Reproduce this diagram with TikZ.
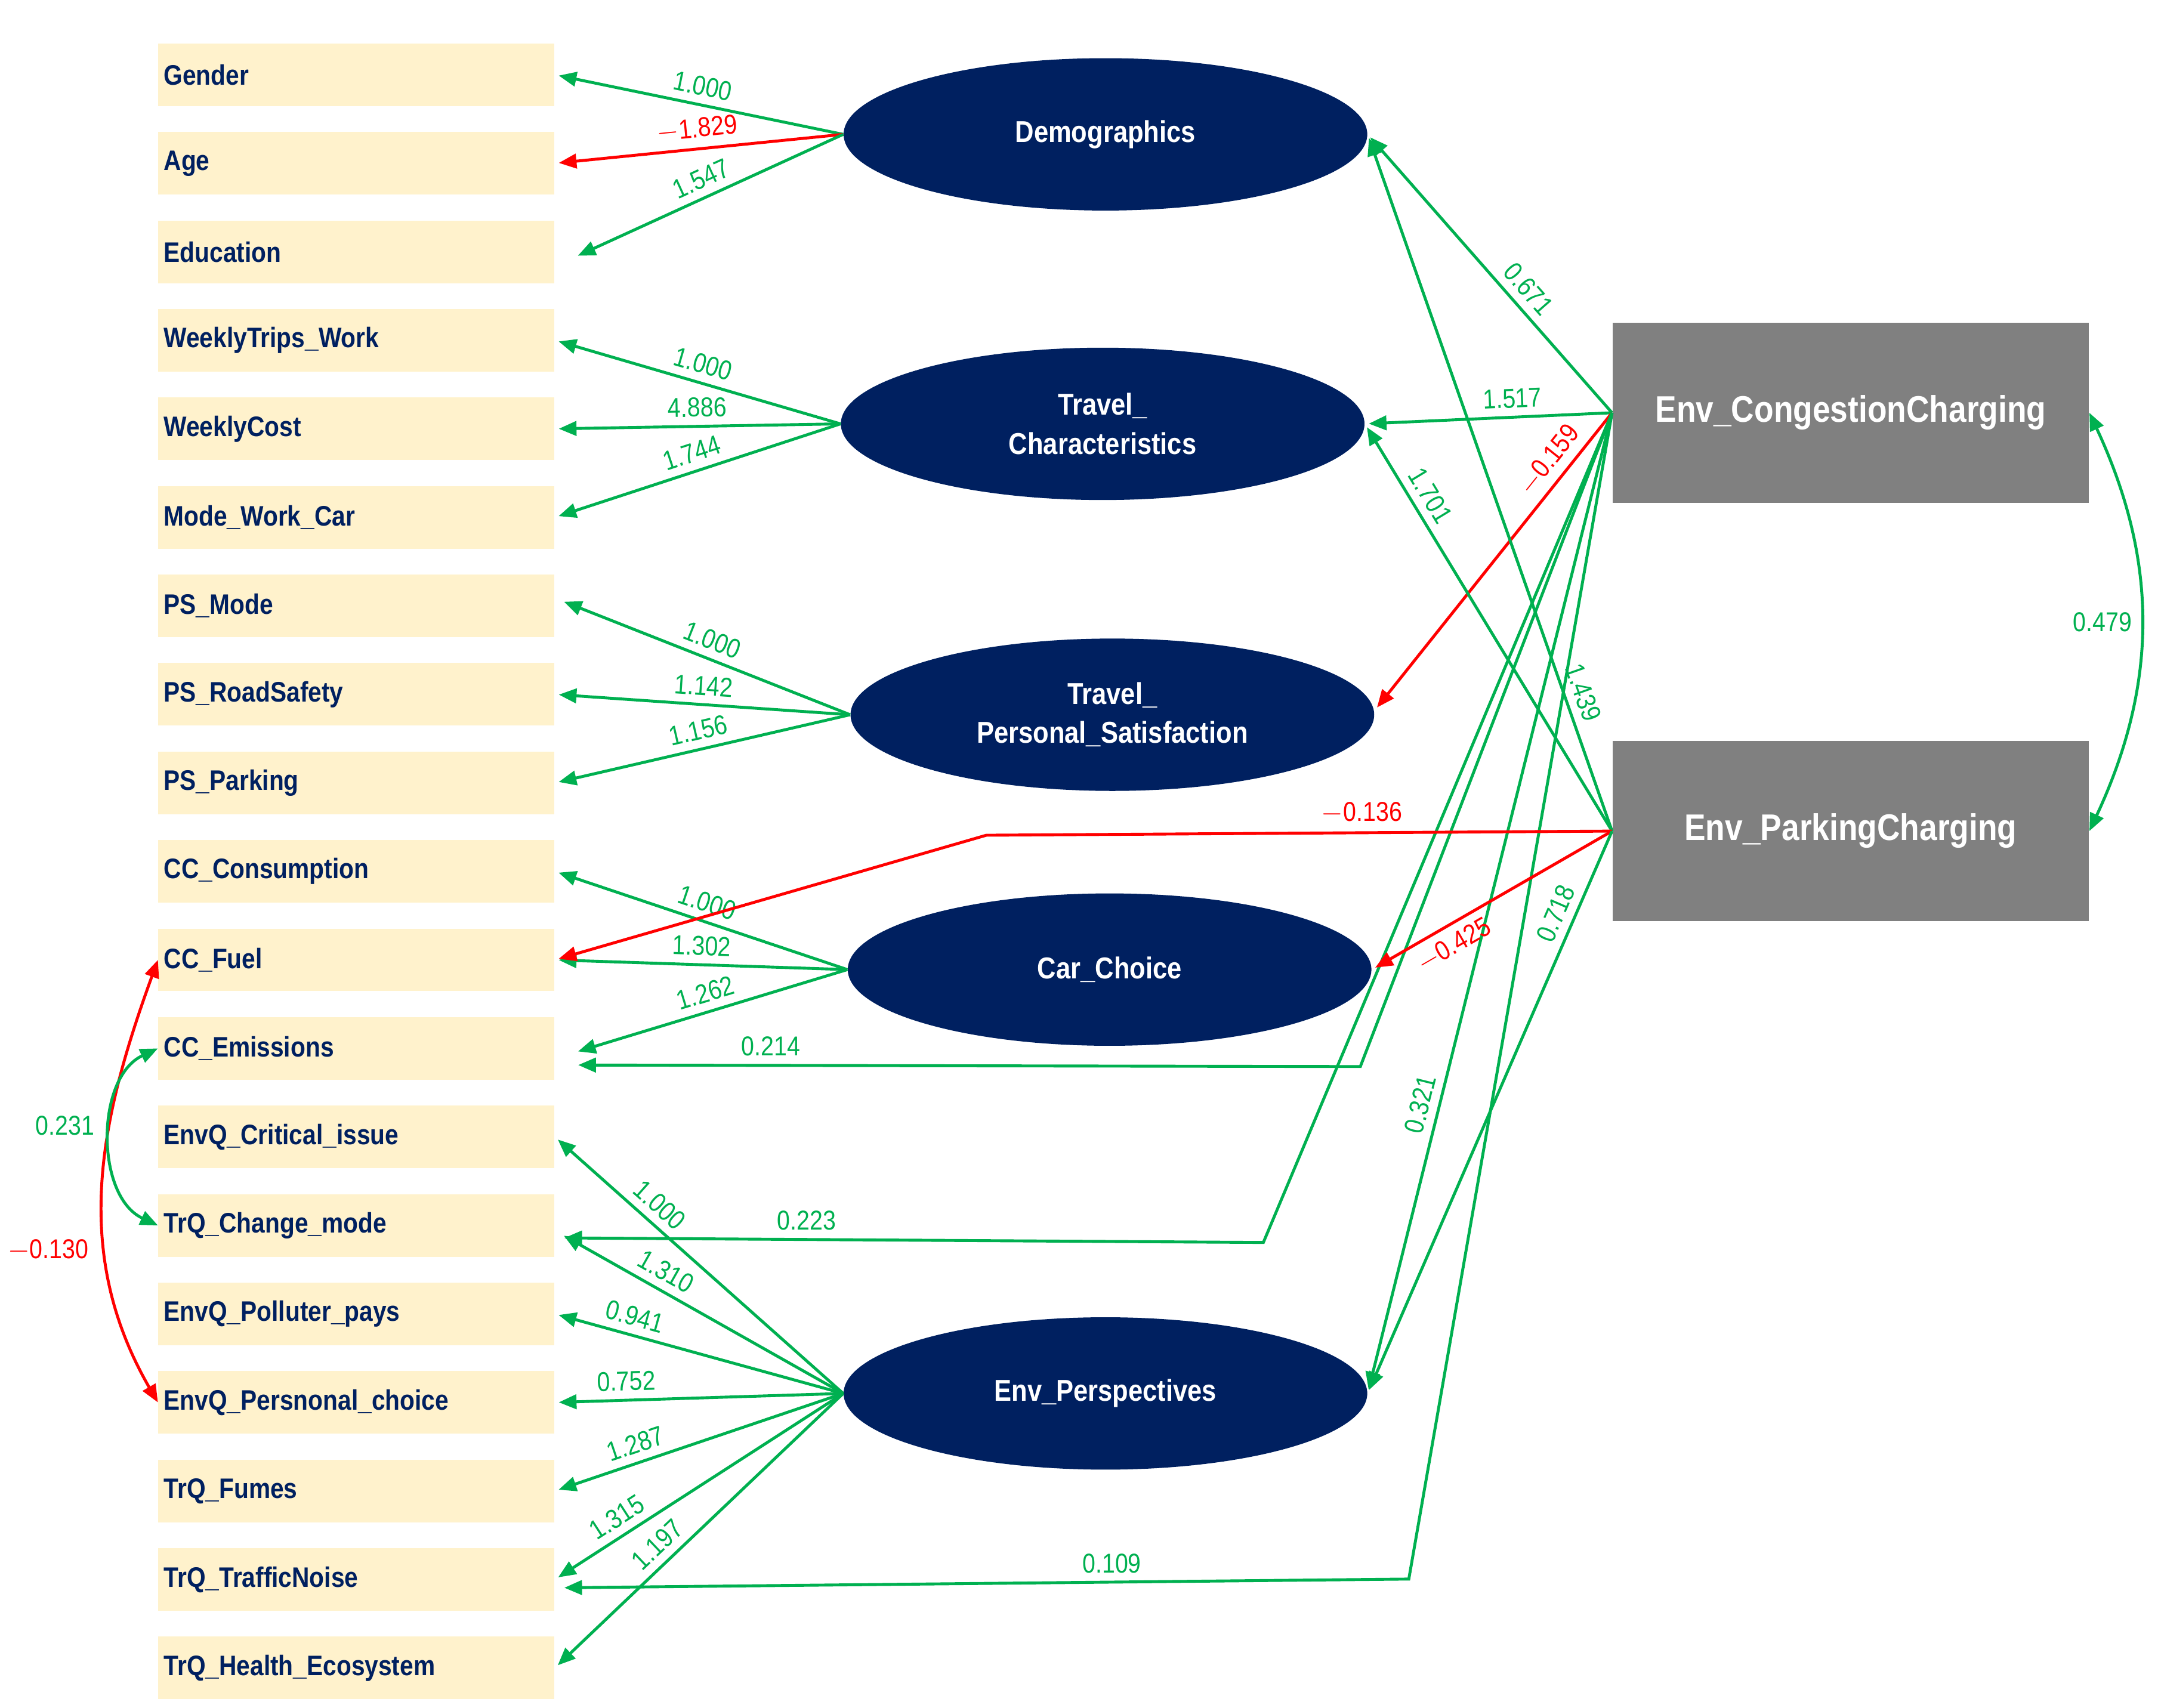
\documentclass[tikz,border=0pt]{standalone}
\usepackage{fontspec}
\setmainfont{Liberation Sans}[FakeStretch=0.86]
\usetikzlibrary{positioning, arrows.meta, shapes.geometric, calc}
\definecolor{semgreen}{RGB}{0,176,80}
\definecolor{semred}{RGB}{255,0,0}
\definecolor{semnavy}{RGB}{0,32,96}
\definecolor{semcream}{RGB}{255,242,204}
\definecolor{semgray}{RGB}{128,128,128}

\begin{document}
\begin{tikzpicture}[
    x=0.25mm, y=-0.25mm,
    obs/.style={
        rectangle,
        fill=semcream,
        minimum width=7.15cm,
        minimum height=1.13cm,
        text width=6.95cm,
        align=left,
        inner xsep=0.1cm,
        anchor=west,
        text=semnavy,
        font=\fontsize{14.5}{16}\selectfont\bfseries
    },
    latent/.style={
        ellipse,
        fill=semnavy,
        minimum width=9.45cm,
        minimum height=2.75cm,
        inner sep=0pt,
        align=center,
        text=white,
        font=\fontsize{15.5}{20}\selectfont\bfseries
    },
    policy/.style={
        rectangle,
        fill=semgray,
        minimum width=8.6cm,
        minimum height=3.25cm,
        text=white,
        font=\fontsize{19}{22}\selectfont\bfseries
    },
    effpos/.style={-{Triangle[length=3.2mm, width=2.6mm]}, line width=1.5pt, semgreen, shorten >=2pt},
    effneg/.style={-{Triangle[length=3.2mm, width=2.6mm]}, line width=1.5pt, semred, shorten >=2pt},
    val/.style={font=\fontsize{14}{16}\selectfont, inner sep=4pt},
    cov/.style={{Triangle[length=3.2mm, width=2.6mm]}-{Triangle[length=3.2mm, width=2.6mm]}, line width=1.5pt}
]
\useasboundingbox (0,0) rectangle (1560,1233);

% Observed indicators
\foreach \txt [count=\i] in {Gender, Age, Education, WeeklyTrips\_Work, WeeklyCost,
    Mode\_Work\_Car, PS\_Mode, PS\_RoadSafety, PS\_Parking, CC\_Consumption, CC\_Fuel,
    CC\_Emissions, EnvQ\_Critical\_issue, TrQ\_Change\_mode, EnvQ\_Polluter\_pays,
    EnvQ\_Persnonal\_choice, TrQ\_Fumes, TrQ\_TrafficNoise, TrQ\_Health\_Ecosystem}
    \node[obs] (b\i) at (114, {54 + (\i-1)*63.9}) {\txt};

% Latent factors
\node[latent] (dem) at (798, 97) {Demographics};
\node[latent] (trc) at (796, 306) {Travel\_\\Characteristics};
\node[latent] (tps) at (803, 516) {Travel\_\\Personal\_Satisfaction};
\node[latent] (car) at (801, 700) {Car\_Choice};
\node[latent] (env) at (798, 1006) {Env\_Perspectives};

% Policy variables
\node[policy] (cong) at (1336, 298) {Env\_CongestionCharging};
\node[policy] (park) at (1336, 600) {Env\_ParkingCharging};

% Loadings
\draw[effpos] (dem.west) -- (b1.east) node[val, midway, sloped, above] {1.000};
\draw[effneg] (dem.west) -- (b2.east) node[val, midway, sloped, above, semred] {$-$1.829};
\draw[effpos] (dem.west) -- ($(b3.east)+(14,4)$) node[val, midway, sloped, above] {1.547};
\draw[effpos] (trc.west) -- (b4.east) node[val, midway, sloped, above] {1.000};
\draw[effpos] (trc.west) -- (b5.east) node[val, midway, sloped, above] {4.886};
\draw[effpos] (trc.west) -- (b6.east) node[val, midway, sloped, above] {1.744};
\draw[effpos] (tps.west) -- ($(b7.east)+(4,-4)$) node[val, midway, sloped, above] {1.000};
\draw[effpos] (tps.west) -- (b8.east) node[val, midway, sloped, above] {1.142};
\draw[effpos] (tps.west) -- (b9.east) node[val, midway, sloped, above] {1.156};
\draw[effpos] (car.west) -- (b10.east) node[val, midway, sloped, above] {1.000};
\draw[effpos] (car.west) -- (b11.east) node[val, midway, sloped, above] {1.302};
\draw[effpos] (car.west) -- ($(b12.east)+(14,3)$) node[val, midway, sloped, above] {1.262};
\draw[effpos] (env.west) -- (b13.east) node[val, pos=0.68, sloped, above] {1.000};
\draw[effpos] (env.west) -- ($(b14.east)+(4,6)$) node[val, pos=0.66, sloped, above] {1.310};
\draw[effpos] (env.west) -- (b15.east) node[val, pos=0.74, sloped, above] {0.941};
\draw[effpos] (env.west) -- (b16.east) node[val, pos=0.75, sloped, above] {0.752};
\draw[effpos] (env.west) -- (b17.east) node[val, pos=0.7, sloped, above] {1.287};
\draw[effpos] (env.west) -- (b18.east) node[val, pos=0.75, sloped, above] {1.315};
\draw[effpos] (env.west) -- (b19.east) node[val, pos=0.6, sloped, above] {1.197};

% Bend points
\coordinate (kEm) at (982, 770);
\coordinate (kCm) at (912, 897);
\coordinate (kTn) at (1017, 1140);
\coordinate (kFu) at (712, 603);

% Congestion charging paths
\draw[effpos] (cong.west) -- (dem.east) node[val, pos=0.4, sloped, above] {0.671};
\draw[effpos] (cong.west) -- (trc.east) node[val, pos=0.4, sloped, above] {1.517};
\draw[effneg] (cong.west) -- ($(tps.east)+(0,-3)$) node[val, pos=0.2, sloped, above, semred] {$-$0.159};
\draw[effpos] (cong.west) -- (env.east) node[val, pos=0.71, sloped, above] {0.321};
\draw[effpos] (cong.west) -- (kEm) -- ($(b12.east)+(14,12)$) node[val, pos=0.75, above] {0.214};
\draw[effpos] (cong.west) -- (kCm) -- ($(b14.east)+(4,9)$) node[val, pos=0.65, above] {0.223};
\draw[effpos] (cong.west) -- (kTn) -- ($(b18.east)+(4,6)$) node[val, pos=0.35, above] {0.109};

% Parking charging paths
\draw[effpos] (park.west) -- (dem.east) node[val, pos=0.19, sloped, above] {1.439};
\draw[effpos] (park.west) -- (trc.east) node[val, pos=0.8, sloped, above] {1.701};
\draw[effneg] (park.west) -- (kFu) node[val, pos=0.4, above, semred] {$-$0.136} -- (b11.east);
\draw[effneg] (park.west) -- (car.east) node[val, pos=0.7, sloped, below, semred] {$-$0.425};
\draw[effpos] (park.west) -- (env.east) node[val, pos=0.16, sloped, above] {0.718};

% Covariances
\draw[cov, semgreen] (cong.east) to[out=-65, in=65] node[val, left] {0.479} (park.east);
\draw[cov, semred] (b11.west) to[out=250, in=120] node[val, pos=0.65, left, xshift=-4pt] {$-$0.130} (b16.west);
\draw[cov, semgreen] (b12.west) to[out=205, in=155] node[val, pos=0.45, left, xshift=-4pt] {0.231} (b14.west);

\end{tikzpicture}
\end{document}
